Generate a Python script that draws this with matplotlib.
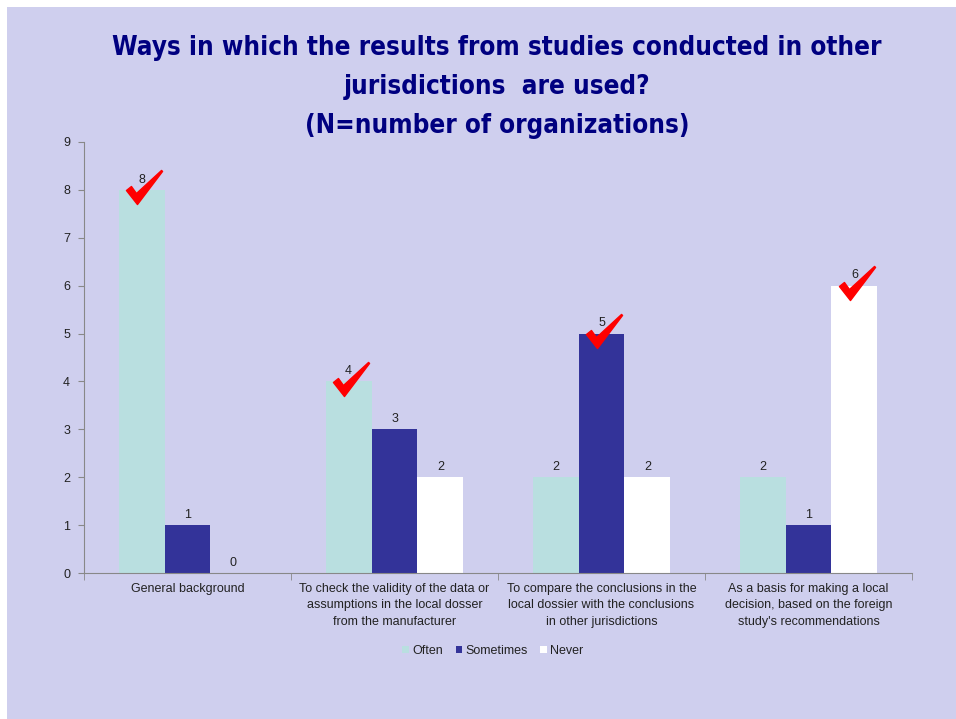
import numpy as np
import matplotlib
matplotlib.use("Agg")
import matplotlib.pyplot as plt
from matplotlib.path import Path
from matplotlib.patches import Rectangle

categories = [
    "General background",
    "To check the validity of the data or\nassumptions in the local dosser\nfrom the manufacturer",
    "To compare the conclusions in the\nlocal dossier with the conclusions\nin other jurisdictions",
    "As a basis for making a local\ndecision, based on the foreign\nstudy's recommendations",
]
series = ["Often", "Sometimes", "Never"]
often = [8, 4, 2, 2]
sometimes = [1, 3, 5, 1]
never = [0, 2, 2, 6]
colors = ["#B9DFE0", "#333399", "#FFFFFF"]
bg = "#CFCFEE"

title = ("Ways in which the results from studies conducted in other\n"
         "jurisdictions  are used?\n(N=number of organizations)")

# red check mark shape (marker units, y up)
check_pts = [(0, 20), (5, 16), (10, 23), (35, 0), (36, 1), (11, 34), (0, 20)]
check_path = Path([(x - 18, 17 - y) for x, y in check_pts],
                  [Path.MOVETO] + [Path.LINETO] * 5 + [Path.CLOSEPOLY])

plt.rcParams['font.family'] = ['Liberation Sans', 'DejaVu Sans']

fig = plt.figure(figsize=(9.56, 7.19), dpi=100, facecolor="white")
fig.patches.append(Rectangle((7 / 956, 0), 1, 1 - 7 / 719, transform=fig.transFigure,
                             facecolor=bg, edgecolor="none", zorder=-5))
ax = fig.add_axes([84 / 956, 1 - 573 / 719, 828 / 956, 431 / 719])
ax.set_facecolor("none")

data = np.array([often, sometimes, never])
x = np.arange(len(categories))
w = 0.222
for i, (name, vals) in enumerate(zip(series, data)):
    pos = x + (i - 1) * w
    ax.bar(pos, vals, width=w, color=colors[i], label=name, zorder=2)
    for px, v in zip(pos, vals):
        ax.annotate(str(v), (px, v), xytext=(0, 3), textcoords="offset points",
                    ha="center", va="bottom", fontsize=9, color="#222222")

# check the most frequent answer in each category
best = data.argmax(axis=0)
for j, i in enumerate(best):
    ax.plot(x[j] + (i - 1) * w + 0.012, data[i, j] + 0.05, marker=check_path,
            markersize=26, color="red", linestyle="none", zorder=4, clip_on=False)

ax.set_xlim(-0.5, len(categories) - 0.5)
ax.set_ylim(0, 9)
ax.set_yticks(range(10))
ax.set_xticks(x)
ax.set_xticklabels(categories, fontsize=9, linespacing=1.5, va="top")
ax.set_xticks(np.arange(len(categories) + 1) - 0.5, minor=True)
ax.tick_params(axis="x", which="major", length=0, pad=7, labelcolor="#222222")
ax.tick_params(axis="x", which="minor", length=5, color="#888888", direction="out")
ax.tick_params(axis="y", length=4, color="#888888", labelsize=9, pad=6,
               labelcolor="#222222")
for s in ["top", "right"]:
    ax.spines[s].set_visible(False)
for s in ["left", "bottom"]:
    ax.spines[s].set_color("#888888")

fig.text(497 / 956, 1 - 87 / 719, title, ha="center", va="center", fontsize=18.6,
         fontweight="bold", color="#000080", linespacing=1.66,
         family="DejaVu Sans", fontstretch="condensed")

fig.legend(loc="center", bbox_to_anchor=(493 / 956, 1 - 651 / 719), ncol=3,
           frameon=False, fontsize=9, handlelength=0.55, handleheight=0.55,
           handletextpad=0.25, columnspacing=1.0, labelcolor="#222222")

fig.savefig("out.png", dpi=100, facecolor="white")
